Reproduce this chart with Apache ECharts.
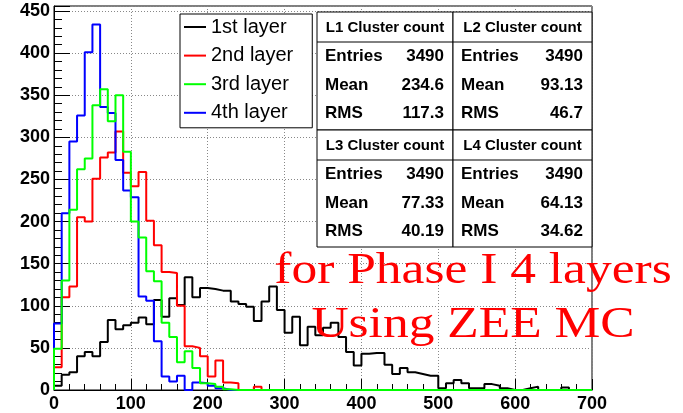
<!DOCTYPE html>
<html>
<head>
<meta charset="utf-8">
<script src="https://cdn.jsdelivr.net/npm/echarts@6/dist/echarts.min.js"></script>
<style>
html,body{margin:0;padding:0;background:#fff;}
#chart{width:683px;height:413px;}
</style>
</head>
<body>
<div id="chart"></div>
<script>
// ---- data ----
const binWidth = 10;
const layerNames = ['1st layer', '2nd layer', '3rd layer', '4th layer'];
const layerColors = ['#000000', '#ff0000', '#00ff00', '#0000ff'];
const layer1 = [5,18,21,40,45,40,57,83,72,77, 80,86,78,107,87,109,101,134,110,121,
  120,118,118,105,102,99,82,105,123,95, 68,87,53,75,65,74,80,63,45,29,
  43,44,44,30,19,26,21,19,17,17, 2,8,12,8,2,2,7,5,2,0,
  0,2,4,0,0,0,3,0,0,0];
const layer2 = [27,110,123,205,200,251,276,282,307,258, 242,259,201,172,140,139,100,52,50,40,
  16,35,9,8,0,0,4,0,0,0, 0,0,0,0,0,0,0,0,0,0,
  0,0,0,0,0,0,0,0,0,0, 0,0,0,0,0,0,0,0,0,0,
  0,0,0,0,0,0,0,0,0,0];
const layer3 = [49,130,214,262,275,338,357,319,350,283, 200,181,141,129,80,63,33,46,26,8,
  7,4,1,0,0,0,0,0,0,0, 0,0,0,0,0,0,0,0,0,0,
  0,0,0,0,0,0,0,0,0,0, 0,0,0,0,0,0,0,0,0,0,
  0,0,0,0,0,0,0,0,0,0];
const layer4 = [79,210,295,326,401,434,336,329,273,237, 229,111,106,58,16,10,17,0,9,8,
  5,2,0,0,0,0,0,0,0,0, 0,0,0,0,0,0,0,0,0,0,
  0,0,0,0,0,0,0,0,0,0, 0,0,0,0,0,0,0,0,0,0,
  0,0,0,0,0,0,0,0,0,0];
const statTitles = ['L1 Cluster count', 'L2 Cluster count', 'L3 Cluster count', 'L4 Cluster count'];
const statLabels = ['Entries', 'Mean', 'RMS'];
const statEntries = ['3490', '3490', '3490', '3490'];
const statMean = ['234.6', '93.13', '77.33', '64.13'];
const statRMS = ['117.3', '46.7', '40.19', '34.62'];
const noteLines = ['for Phase I 4 layers', 'Using ZEE MC'];

// ---- build ----
function stepData(vals) {
  const pts = [[0, 0]];
  for (let i = 0; i < vals.length; i++) pts.push([i * binWidth, vals[i]]);
  pts.push([vals.length * binWidth, vals[vals.length - 1]]);
  return pts;
}
const layers = [layer1, layer2, layer3, layer4];
const drawOrder = [0, 1, 3, 2];
const series = drawOrder.map(k => ({
  name: layerNames[k],
  type: 'line',
  step: 'end',
  symbol: 'none',
  data: stepData(layers[k]),
  lineStyle: { color: layerColors[k], width: 2 },
  itemStyle: { color: layerColors[k] },
  animation: false
}));

// stats boxes
const boxX = [317, 453, 592];
const boxY = [12, 130, 247];
const graphics = [];
const statVals = [statEntries, statMean, statRMS];
for (let b = 0; b < 4; b++) {
  const c = b % 2, r = Math.floor(b / 2);
  const x0 = boxX[c], x1 = boxX[c + 1], y0 = boxY[r], y1 = boxY[r + 1];
  graphics.push({ type: 'rect', shape: { x: x0, y: y0, width: x1 - x0, height: y1 - y0 },
    style: { fill: '#fff', stroke: '#000', lineWidth: 1 }, z: 10 });
  graphics.push({ type: 'line', shape: { x1: x0, y1: y0 + 30, x2: x1, y2: y0 + 30 },
    style: { stroke: '#000', lineWidth: 1 }, z: 11 });
  graphics.push({ type: 'text', x: (x0 + x1) / 2, y: y0 + 15.5, z: 12,
    style: { text: statTitles[b], font: 'bold 15px "Liberation Sans"', fill: '#000',
      textAlign: 'center', textVerticalAlign: 'middle' } });
  const rowOff = [44.5, 73.5, 101.5];
  for (let k = 0; k < 3; k++) {
    graphics.push({ type: 'text', x: x0 + 8, y: y0 + rowOff[k], z: 12,
      style: { text: statLabels[k], font: 'bold 17px "Liberation Sans"', fill: '#000',
        textAlign: 'left', textVerticalAlign: 'middle' } });
    graphics.push({ type: 'text', x: x1 - 9, y: y0 + rowOff[k], z: 12,
      style: { text: statVals[k][b], font: 'bold 17px "Liberation Sans"', fill: '#000',
        textAlign: 'right', textVerticalAlign: 'middle' } });
  }
}
const noteY = [271, 325];
noteLines.forEach((t, i) => {
  graphics.push({ type: 'text', x: 473, y: noteY[i], scaleX: 1.17, z: 20,
    style: { text: t, font: '44px "Liberation Serif"', fill: '#ff0000',
      textAlign: 'center', textVerticalAlign: 'middle' } });
});

const chart = echarts.init(document.getElementById('chart'), null, { renderer: 'canvas' });
chart.setOption({
  animation: false,
  backgroundColor: '#fff',
  grid: { left: 54, right: 91, top: 6, bottom: 21, show: true, borderColor: '#000', borderWidth: 1, backgroundColor: 'transparent' },
  legend: {
    orient: 'vertical', left: 180, top: 14,
    padding: [3, 19, 5, 4], itemGap: 8.6, itemWidth: 22, itemHeight: 2, icon: 'rect',
    backgroundColor: '#fff', borderColor: '#000', borderWidth: 1,
    textStyle: { fontFamily: 'Liberation Sans', fontSize: 20, color: '#000', lineHeight: 20 },
    data: layerNames, z: 10
  },
  xAxis: {
    type: 'value', min: 0, max: 700, interval: 100,
    axisLine: { onZero: false, lineStyle: { color: '#000', width: 1 } },
    axisTick: { inside: true, length: 11, lineStyle: { color: '#000' } },
    minorTick: { show: true, splitNumber: 5, length: 6, lineStyle: { color: '#000' } },
    splitLine: { show: true, lineStyle: { color: '#888', type: [1, 2], width: 1 } },
    axisLabel: { fontFamily: 'Liberation Sans', fontWeight: 'bold', fontSize: 18, color: '#000', margin: 5 }
  },
  yAxis: {
    type: 'value', min: 0, max: 456, interval: 50,
    axisLine: { show: true, lineStyle: { color: '#000', width: 1 } },
    axisTick: { inside: true, length: 16, lineStyle: { color: '#000' } },
    minorTick: { show: true, splitNumber: 5, length: 8, lineStyle: { color: '#000' } },
    splitLine: { show: true, lineStyle: { color: '#888', type: [1, 2], width: 1 } },
    axisLabel: { fontFamily: 'Liberation Sans', fontWeight: 'bold', fontSize: 18, color: '#000', margin: 4,
      showMaxLabel: false }
  },
  series: series,
  graphic: graphics
});
</script>
</body>
</html>
